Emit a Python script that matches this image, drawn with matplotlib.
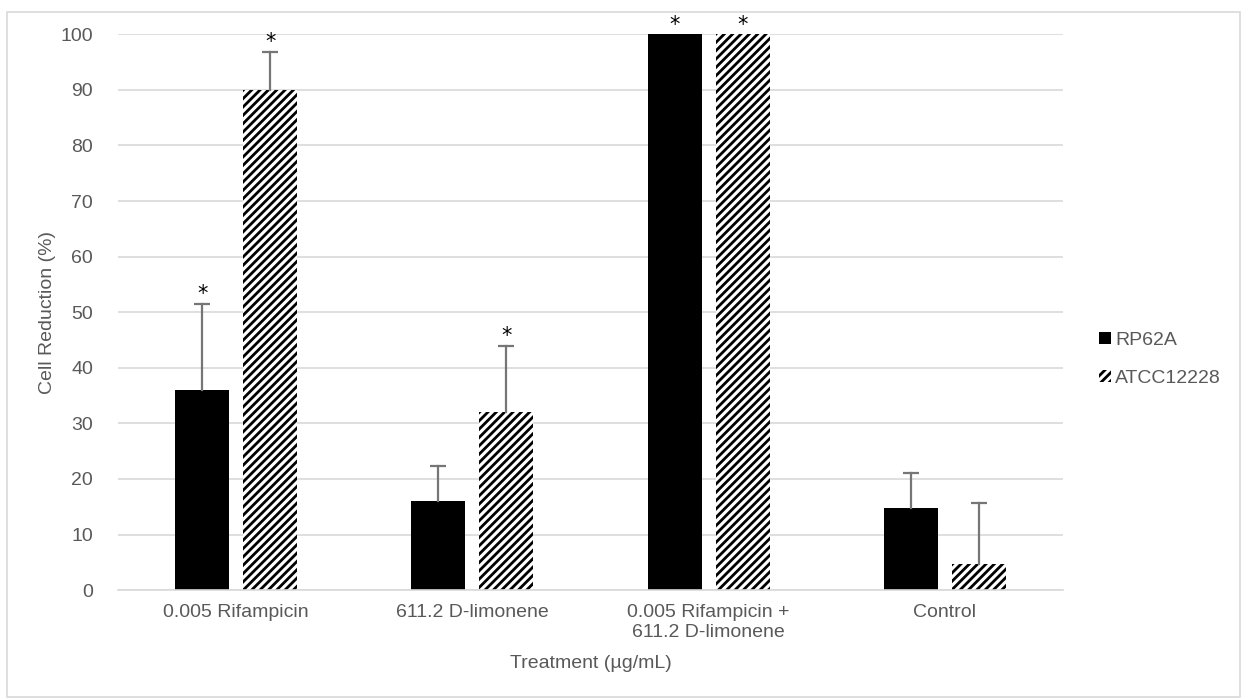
import numpy as np
import matplotlib
matplotlib.use('Agg')
import matplotlib.pyplot as plt
from matplotlib.patches import Rectangle

plt.rcParams['font.family'] = ['Liberation Sans', 'DejaVu Sans']
plt.rcParams['hatch.linewidth'] = 2.0

# Datos
categorias = ['0.005 Rifampicin', '611.2 D-limonene',
              '0.005 Rifampicin +\n611.2 D-limonene', 'Control']
rp62a = [36, 16, 100, 14.7]
rp62a_err = [15.5, 6.3, 0, 6.4]
atcc = [90, 32, 100, 4.7]
atcc_err = [6.8, 12, 0, 11]
rp62a_sig = [True, False, True, False]
atcc_sig = [True, True, True, False]

gris = '#595959'
fs = 14
x = np.arange(len(categorias))
w = 0.229
off = 0.144

fig = plt.figure(figsize=(12.45, 7), dpi=100)
ax = fig.add_axes([0.0948, 0.157, 0.759, 0.794])

ax.bar(x - off, rp62a, w, color='black', zorder=2)
ax.bar(x + off, atcc, w, color='white', edgecolor='black', linewidth=0,
       hatch='////', zorder=2)

# barras de error (solo positivas) y asteriscos
for xs, vals, errs, sig in [(x - off, rp62a, rp62a_err, rp62a_sig),
                            (x + off, atcc, atcc_err, atcc_sig)]:
    for xi, v, e, s in zip(xs, vals, errs, sig):
        if e > 0:
            ax.plot([xi, xi], [v, v + e], color='#767676', lw=1.6, zorder=3)
            ax.plot(xi, v + e, marker='_', markersize=11, mew=1.6,
                    color='#767676', zorder=3)
        if s:
            ax.annotate('*', (xi, v + e), xytext=(0, 7), textcoords='offset points',
                        ha='center', va='center', fontsize=15, color='black',
                        family='DejaVu Sans', zorder=4)

ax.set_xlim(-0.5, 3.5)
ax.set_ylim(0, 100)
ax.set_yticks(np.arange(0, 101, 10))
ax.set_xticks(x)
ax.set_xticklabels(categorias, fontsize=fs, color=gris, linespacing=1.25)
ax.tick_params(axis='y', labelsize=fs, labelcolor=gris, length=0, pad=18)
ax.tick_params(axis='x', length=0, pad=10)
ax.grid(axis='y', color='#d9d9d9', linewidth=1.2, zorder=0)
ax.set_axisbelow(True)
for s in ['top', 'right', 'left']:
    ax.spines[s].set_visible(False)
ax.spines['bottom'].set_color('#d9d9d9')
ax.spines['bottom'].set_linewidth(1.2)

ax.set_ylabel('Cell Reduction (%)', fontsize=fs, color=gris, labelpad=3)
ax.set_xlabel('Treatment (µg/mL)', fontsize=fs, color=gris, labelpad=10)

h1 = Rectangle((0, 0), 1, 1, facecolor='black')
h2 = Rectangle((0, 0), 1, 1, facecolor='white', edgecolor='black',
               linewidth=0, hatch='////')
ax.legend([h1, h2], ['RP62A', 'ATCC12228'], loc='center left',
          bbox_to_anchor=(1.02, 0.415), frameon=False, fontsize=fs,
          labelcolor=gris, handlelength=0.6, handleheight=0.6,
          handletextpad=0.2, labelspacing=1.1)

# borde del grafico
fig.patches.append(Rectangle((0.006, 0.004), 0.99, 0.979, transform=fig.transFigure,
                             fill=False, edgecolor='#d9d9d9', linewidth=1.2))

plt.savefig('out.png', dpi=100)
